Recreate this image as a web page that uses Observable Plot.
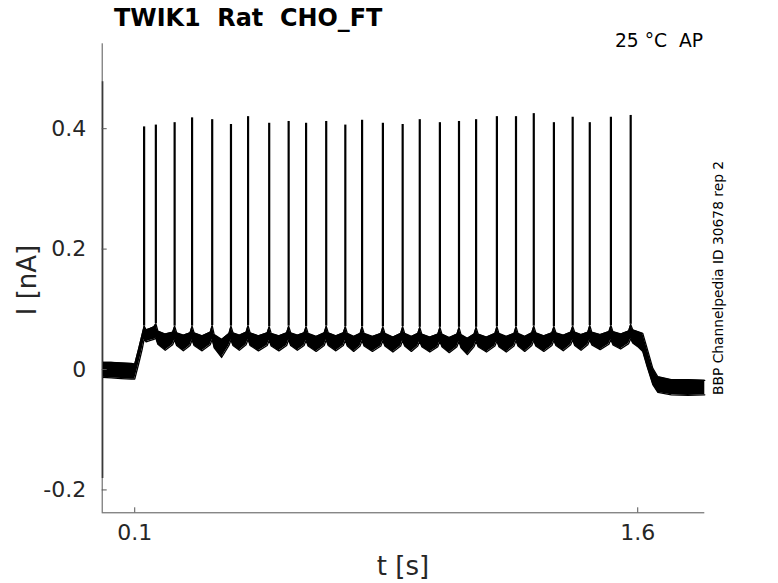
<!DOCTYPE html>
<html><head><meta charset="utf-8">
<script src="https://cdn.jsdelivr.net/npm/d3@7"></script>
<script src="https://cdn.jsdelivr.net/npm/@observablehq/plot@0.6"></script>
<style>body{margin:0;background:#fff;} #chart svg{display:block;}</style>
</head><body><div id="chart"></div>
<script>
const title = "TWIK1  Rat  CHO_FT";
const condition = "25 °C  AP";
const source = "BBP Channelpedia ID 30678 rep 2";
const xLabel = "t [s]";
const yLabel = "I [nA]";
const xTicks = [0.1, 1.6];
const yTicks = [-0.2, 0, 0.2, 0.4];
const xDomain = [0.003, 1.8];
const yDomain = [-0.238, 0.541];

// action-potential-like spikes: time (s), peak current (nA), current at spike base (nA)
const spikeT = [0.128,0.163,0.219,0.271,0.331,0.387,0.438,0.501,0.559,0.611,0.671,0.728,0.778,0.840,0.899,0.950,1.010,1.067,1.118,1.180,1.237,1.290,1.350,1.406,1.457,1.520,1.579];
const spikePeak = [0.403,0.406,0.410,0.418,0.415,0.407,0.420,0.409,0.412,0.409,0.412,0.406,0.414,0.409,0.407,0.415,0.410,0.412,0.415,0.420,0.420,0.425,0.410,0.419,0.410,0.419,0.422];
const spikeBase = [0.072,0.076,0.072,0.072,0.073,0.072,0.073,0.071,0.072,0.071,0.072,0.071,0.071,0.071,0.071,0.070,0.070,0.070,0.070,0.071,0.071,0.072,0.071,0.072,0.073,0.073,0.075];

// noisy trace envelope: time (s), lower and upper edge (nA)
const envT = [0.004,0.03,0.06,0.09,0.1,0.112,0.122,
  0.128,0.134,0.145,0.157,
  0.163,0.169,0.191,0.213,
  0.219,0.225,0.245,0.265,
  0.271,0.277,0.301,0.325,
  0.331,0.337,0.359,0.381,
  0.387,0.393,0.412,0.432,
  0.438,0.444,0.469,0.495,
  0.501,0.507,0.530,0.553,
  0.559,0.565,0.585,0.605,
  0.611,0.617,0.641,0.665,
  0.671,0.677,0.700,0.722,
  0.728,0.734,0.753,0.772,
  0.778,0.784,0.809,0.834,
  0.840,0.846,0.870,0.893,
  0.899,0.905,0.925,0.944,
  0.950,0.956,0.980,1.004,
  1.010,1.016,1.038,1.061,
  1.067,1.073,1.092,1.112,
  1.118,1.124,1.149,1.174,
  1.180,1.186,1.208,1.231,
  1.237,1.243,1.263,1.284,
  1.290,1.296,1.320,1.344,
  1.350,1.356,1.378,1.400,
  1.406,1.412,1.431,1.451,
  1.457,1.463,1.488,1.514,
  1.520,1.526,1.549,1.573,
  1.579,1.585,1.600,1.615,1.628,1.645,1.660,1.700,1.750,1.800];
const envLo = [-0.013,-0.014,-0.015,-0.016,-0.016,0.010,0.033,
  0.050,0.046,0.048,0.050,
  0.052,0.042,0.032,0.041,
  0.049,0.040,0.031,0.040,
  0.049,0.040,0.031,0.041,
  0.050,0.036,0.020,0.040,
  0.049,0.040,0.032,0.041,
  0.050,0.040,0.031,0.040,
  0.048,0.039,0.031,0.040,
  0.049,0.040,0.032,0.040,
  0.048,0.039,0.030,0.040,
  0.049,0.040,0.031,0.040,
  0.048,0.039,0.030,0.039,
  0.048,0.039,0.030,0.039,
  0.048,0.039,0.029,0.039,
  0.048,0.039,0.030,0.039,
  0.047,0.038,0.029,0.038,
  0.047,0.038,0.028,0.038,
  0.047,0.036,0.025,0.038,
  0.047,0.038,0.029,0.039,
  0.047,0.038,0.029,0.039,
  0.048,0.039,0.030,0.040,
  0.048,0.039,0.030,0.040,
  0.048,0.040,0.031,0.041,
  0.049,0.040,0.032,0.041,
  0.049,0.041,0.033,0.042,
  0.050,0.041,0.034,0.043,
  0.051,0.044,0.038,0.030,0.005,-0.025,-0.038,-0.042,-0.043,-0.042];
const envHi = [0.012,0.012,0.011,0.010,0.009,0.035,0.058,
  0.072,0.066,0.068,0.071,
  0.076,0.064,0.059,0.062,
  0.072,0.061,0.057,0.061,
  0.072,0.061,0.056,0.062,
  0.073,0.058,0.050,0.060,
  0.072,0.061,0.057,0.062,
  0.073,0.061,0.056,0.061,
  0.071,0.060,0.056,0.061,
  0.072,0.061,0.057,0.061,
  0.071,0.060,0.055,0.061,
  0.072,0.061,0.056,0.061,
  0.071,0.060,0.055,0.060,
  0.071,0.060,0.055,0.060,
  0.071,0.060,0.054,0.060,
  0.071,0.060,0.055,0.060,
  0.070,0.059,0.054,0.059,
  0.070,0.059,0.053,0.059,
  0.070,0.058,0.052,0.059,
  0.070,0.059,0.054,0.060,
  0.071,0.060,0.055,0.060,
  0.071,0.060,0.055,0.061,
  0.072,0.061,0.056,0.061,
  0.071,0.061,0.057,0.062,
  0.072,0.062,0.058,0.062,
  0.073,0.062,0.058,0.063,
  0.073,0.063,0.059,0.064,
  0.075,0.066,0.063,0.060,0.035,0.002,-0.012,-0.017,-0.017,-0.018];

// capacitive transient at the start of the record
const transientT = [0.004];
const transientLo = [-0.181];
const transientHi = [0.478];

const env = envT.map((t, i) => ({t, lo: envLo[i], hi: envHi[i]}));
const spikes = spikeT.map((t, i) => ({t, base: spikeBase[i], peak: spikePeak[i]}));
const transient = transientT.map((t, i) => ({t, lo: transientLo[i], hi: transientHi[i]}));

const axisColor = "#555";
const textColor = "#262626";

const chart = Plot.plot({
  width: 778, height: 583,
  marginLeft: 101.7, marginRight: 73.7, marginTop: 43.3, marginBottom: 70.7,
  style: {fontFamily: "DejaVu Sans", fontSize: "22px", color: textColor, background: "#fff"},
  x: {domain: xDomain},
  y: {domain: yDomain},
  marks: [
    Plot.areaY(env, {x: "t", y1: "lo", y2: "hi", fill: "black", curve: "linear"}),
    Plot.line(env, {x: "t", y: "hi", stroke: "black", strokeWidth: 1.3}),
    Plot.line(env, {x: "t", y: "lo", stroke: "black", strokeWidth: 1.3}),
    Plot.ruleX(spikes, {x: "t", y1: "base", y2: "peak", stroke: "black", strokeWidth: 2.2}),
    Plot.ruleX(transient, {x: "t", y1: "lo", y2: "hi", stroke: "black", strokeWidth: 1.5}),
    Plot.ruleX([xDomain[0]], {stroke: axisColor, strokeWidth: 1}),
    Plot.ruleY([yDomain[0]], {stroke: axisColor, strokeWidth: 1}),
    // inward tick marks
    Plot.ruleX(xTicks, {x: d => d, y1: yDomain[0], y2: yDomain[0], insetBottom: 5, stroke: axisColor, strokeWidth: 1}),
    Plot.ruleY(yTicks, {y: d => d, x1: xDomain[0], x2: xDomain[0], insetRight: -5, stroke: axisColor, strokeWidth: 1}),
    Plot.axisX(xTicks, {tickSize: 0, tickPadding: 12, tickFormat: d => String(d), fill: textColor, fontSize: 22, label: null}),
    Plot.axisY(yTicks, {tickSize: 0, tickPadding: 16, tickFormat: d => String(d), fill: textColor, fontSize: 22, label: null})
  ]
});
document.getElementById("chart").appendChild(chart);

const svg = d3.select(chart);
const ff = "DejaVu Sans";
svg.append("text").attr("x", 114).attr("y", 26).attr("text-anchor", "start").attr("font-family", ff).attr("font-weight", "bold")
  .attr("font-size", 23.9).attr("fill", "black").style("white-space", "pre").text(title);
svg.append("text").attr("x", 703).attr("y", 47).attr("text-anchor", "end").attr("font-family", ff)
  .attr("font-size", 18.7).attr("fill", "black").style("white-space", "pre").text(condition);
svg.append("text").attr("transform", "translate(723,395) rotate(-90)").attr("text-anchor", "start").attr("font-family", ff)
  .attr("font-size", 13.8).attr("fill", "black").text(source);
svg.append("text").attr("x", 403).attr("y", 575).attr("text-anchor", "middle").attr("font-family", ff)
  .attr("font-size", 26).attr("fill", textColor).text(xLabel);
svg.append("text").attr("transform", "translate(36,280) rotate(-90)").attr("text-anchor", "middle").attr("font-family", ff)
  .attr("font-size", 26).attr("fill", textColor).text(yLabel);
</script>
</body></html>
